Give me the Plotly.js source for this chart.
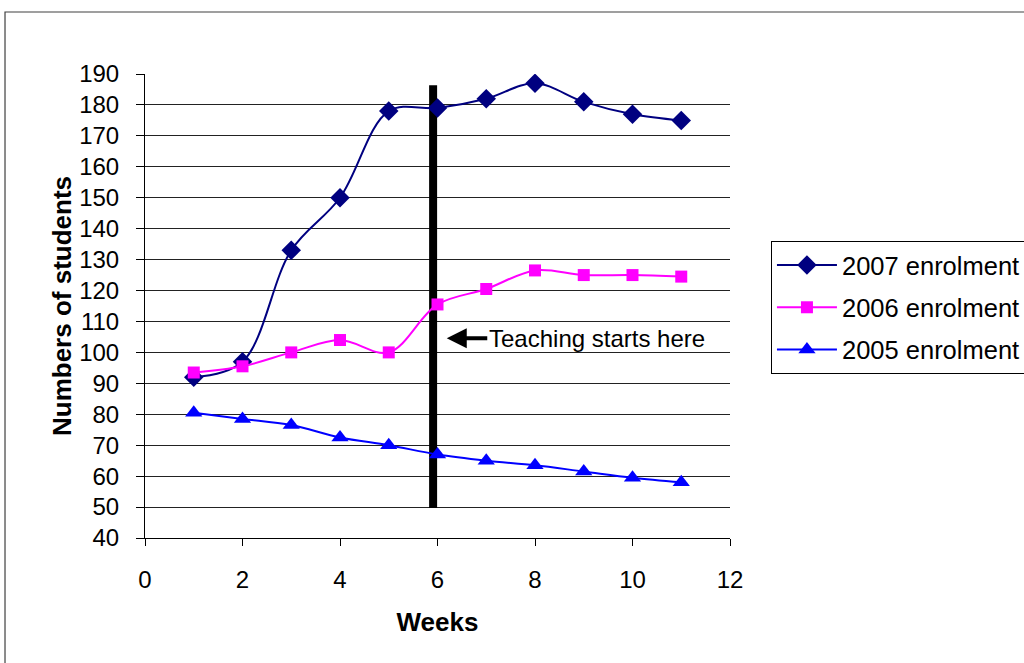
<!DOCTYPE html>
<html>
<head>
<meta charset="utf-8">
<script src="https://cdn.plot.ly/plotly-3.0.1.min.js"></script>
<style>
html,body{margin:0;padding:0;background:#fff;}
#chart{width:1024px;height:663px;}
</style>
</head>
<body>
<div id="chart"></div>
<script>
const weeks = [1, 2, 3, 4, 5, 6, 7, 8, 9, 10, 11];
const enrol2007 = [92, 97, 133, 150, 178, 179, 182, 187, 181, 177, 175];
const enrol2006 = [93.5, 95.5, 100, 104, 100, 115.5, 120.5, 126.5, 125, 125, 124.5];
const enrol2005 = [80.5, 78.5, 76.5, 72.5, 70, 67, 65, 63.5, 61.5, 59.5, 58];
const seriesNames = ['2007 enrolment', '2006 enrolment', '2005 enrolment'];
const teachingWeek = 5.91;
const teachingSpan = [49.7, 186.4];
const noteText = 'Teaching starts here';
const notePoint = [6.19, 104.6];

const FONT = 'Arial, "Liberation Sans", sans-serif';

const traces = [
  {x: weeks, y: enrol2007, name: seriesNames[0], type: 'scatter', mode: 'lines+markers',
   line: {color: '#000080', width: 2, shape: 'spline', smoothing: 1},
   marker: {symbol: 'diamond', size: 15, color: '#000080'}, legendgroup: 'a'},
  {x: weeks, y: enrol2006, name: seriesNames[1], type: 'scatter', mode: 'lines+markers',
   line: {color: '#FF00FF', width: 2, shape: 'spline', smoothing: 1},
   marker: {symbol: 'square', size: 12, color: '#FF00FF'}, legendgroup: 'b'},
  {x: weeks, y: enrol2005, name: seriesNames[2], type: 'scatter', mode: 'lines+markers',
   line: {color: '#0000FF', width: 2, shape: 'spline', smoothing: 1},
   marker: {symbol: 'triangle-up', size: 15, color: '#0000FF'}, legendgroup: 'c'}
];

const layout = {
  width: 1024, height: 663,
  margin: {l: 145, r: 294, t: 74, b: 125, pad: 0, autoexpand: false},
  paper_bgcolor: '#fff', plot_bgcolor: '#fff',
  font: {family: FONT, size: 24, color: '#000'},
  showlegend: true,
  legend: {x: 1.07, y: 0.64, xanchor: 'left', yanchor: 'top',
           bordercolor: '#000', borderwidth: 1, bgcolor: '#fff',
           font: {family: FONT, size: 25.5, color: '#000'},
           tracegroupgap: 6, itemwidth: 60},
  xaxis: {range: [0, 12], dtick: 2, tick0: 0, showgrid: false, zeroline: false,
          showline: true, linecolor: '#000', linewidth: 1, automargin: false,
          ticks: 'outside', ticklen: 7, tickcolor: '#000', ticklabelstandoff: 13,
          tickfont: {family: FONT, size: 24, color: '#000'},
          title: {text: '<b>Weeks</b>', font: {family: FONT, size: 26, color: '#000'}, standoff: 21}},
  yaxis: {range: [40, 190], dtick: 10, tick0: 40, showgrid: true, gridcolor: '#222', gridwidth: 1,
          zeroline: false, showline: true, linecolor: '#000', linewidth: 1, automargin: false,
          ticks: 'outside', ticklen: 8, tickcolor: '#000', ticklabelstandoff: 12,
          tickfont: {family: FONT, size: 24, color: '#000'},
          title: {text: '<b>Numbers of students</b>', font: {family: FONT, size: 26, color: '#000'}, standoff: 0}},
  shapes: [
    {type: 'line', xref: 'x', yref: 'y', x0: teachingWeek, x1: teachingWeek,
     y0: teachingSpan[0], y1: teachingSpan[1], line: {color: '#000', width: 8}, layer: 'between'},
    {type: 'rect', xref: 'paper', yref: 'paper', x0: -0.2393, x1: 1.52, y0: -0.3, y1: 1.1336,
     line: {color: '#404040', width: 1.2}, fillcolor: 'rgba(0,0,0,0)', layer: 'below'}
  ],
  annotations: [
    {x: notePoint[0], y: notePoint[1], xref: 'x', yref: 'y', text: noteText,
     showarrow: true, ax: 150, ay: 0, arrowhead: 2, arrowsize: 1, arrowwidth: 4, arrowcolor: '#000',
     font: {family: FONT, size: 24, color: '#000'}}
  ]
};

Plotly.newPlot('chart', traces, layout, {displayModeBar: false, staticPlot: true});
</script>
</body>
</html>
